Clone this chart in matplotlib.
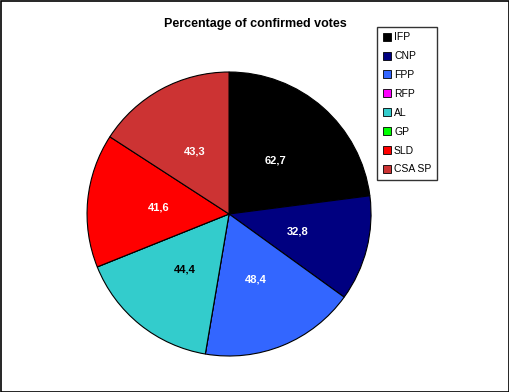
import matplotlib
matplotlib.use("Agg")
import matplotlib.pyplot as plt
from matplotlib.patches import Patch, Rectangle

parties = ['IFP', 'CNP', 'FPP', 'RFP', 'AL', 'GP', 'SLD', 'CSA SP']
votes = [62.7, 32.8, 48.4, 0.0, 44.4, 0.0, 41.6, 43.3]
colors = ['#000000', '#000080', '#3366FF', '#FF00FF', '#33CCCC', '#00FF00', '#FF0000', '#CC3333']
label_colors = ['white', 'white', 'white', 'white', 'black', 'black', 'white', 'white']

plt.rcParams['font.family'] = ['Liberation Sans', 'DejaVu Sans']

fig = plt.figure(figsize=(5.1, 3.92), dpi=100)
fig.patches.append(Rectangle((0.001, 0.001), 0.997, 0.996, transform=fig.transFigure,
                             fill=False, edgecolor='black', linewidth=1.2))

ax = fig.add_axes([0.1706, 0.0918, 0.557, 0.7245])
total = sum(votes)

def fmt(pct):
    v = pct * total / 100.0
    if v < 0.05:
        return ''
    return ('%.1f' % v).replace('.', ',')

wedges, texts, autotexts = ax.pie(votes, colors=colors, startangle=90, counterclock=False,
                                  autopct=fmt, pctdistance=0.5,
                                  wedgeprops=dict(edgecolor='black', linewidth=0.8))
for t, c in zip(autotexts, label_colors):
    t.set_color(c)
    t.set_fontweight('bold')
    t.set_fontsize(8)
ax.set_xlim(-1.0, 1.0)
ax.set_ylim(-1.0, 1.0)
ax.set_aspect('equal')

fig.text(0.50, 0.94, 'Percentage of confirmed votes', ha='center', va='center',
         fontsize=9, fontweight='bold')

handles = [Patch(facecolor=c, edgecolor='black', linewidth=0.6) for c in colors]
leg = fig.legend(handles, parties, loc='upper left', bbox_to_anchor=(0.739, 0.932),
                 fontsize=7.5, frameon=True, fancybox=False, handlelength=0.8,
                 handleheight=0.8, handletextpad=0.3, labelspacing=0.85,
                 borderpad=0.55, borderaxespad=0)
leg.get_frame().set_edgecolor('black')
leg.get_frame().set_linewidth(1.0)

fig.savefig('out.png', dpi=100)
